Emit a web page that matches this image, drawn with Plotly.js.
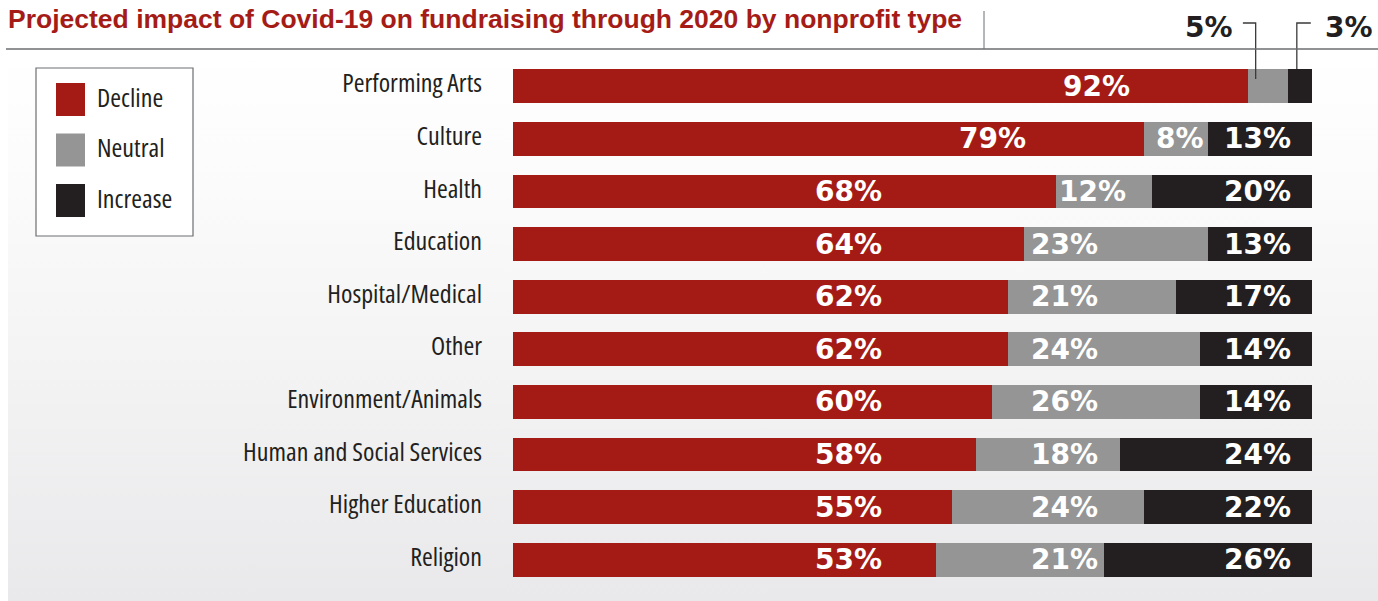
<!DOCTYPE html>
<html>
<head>
<meta charset="utf-8">
<script src="https://cdn.plot.ly/plotly-3.0.1.min.js"></script>
<style>
html,body{margin:0;padding:0;background:#ffffff;}
#wrap{position:relative;width:1378px;height:601px;overflow:hidden;}
#bg{position:absolute;left:8px;top:50px;width:1370px;height:551px;background:linear-gradient(to bottom,#ffffff 0%,#fbfbfb 25%,#e9e9eb 100%);}
#chart{position:absolute;left:0;top:0;width:1378px;height:601px;}
text[style*="Open Sans"]{font-stretch:75% !important;}
</style>
</head>
<body>
<div id="wrap"><div id="bg"></div><div id="chart"></div></div>
<script>
// ---- data ----
const categories = ['Performing Arts','Culture','Health','Education','Hospital/Medical','Other','Environment/Animals','Human and Social Services','Higher Education','Religion'];
const decline  = [92,79,68,64,62,62,60,58,55,53];
const neutral  = [5,8,12,23,21,24,26,18,24,21];
const increase = [3,13,20,13,17,14,14,24,22,26];
const seriesNames = ['Decline','Neutral','Increase'];
const titleText = 'Projected impact of Covid-19 on fundraising through 2020 by nonprofit type';

// ---- style ----
const colors = ['#a41b15','#959595','#231f20'];
const W = 1378, H = 601;
const M = {l:513, r:66, t:60, b:15};
const PW = W - M.l - M.r, PH = H - M.t - M.b;
const X = px => (px - M.l) / PW;        // pixel -> paper x
const Y = py => (H - M.b - py) / PH;    // pixel -> paper y
const XR = [0, 100];
const DX = v => (v - XR[0]) / (XR[1] - XR[0]);  // data x -> paper x
const valFont = {family:'DejaVu Sans', size:28, weight:'bold', color:'#ffffff'};
const labFamily = '"Open Sans", sans-serif';
const ink = '#231f20';

const series = [decline, neutral, increase];
const traces = series.map((vals, k) => ({
  type:'bar', orientation:'h', name: seriesNames[k],
  y: categories, x: vals,
  marker:{color: colors[k], line:{width:0}},
  hoverinfo:'skip', textposition:'none'
}));

const annotations = [];
const shapes = [];

categories.forEach((c, i) => {
  const d = decline[i], n = neutral[i], inc = increase[i];
  // decline label
  annotations.push({x: d >= 75 ? d - 19 : 42, y: c, xref:'x', yref:'y', text: d + '%',
    showarrow:false, xanchor:'center', yanchor:'middle', font: valFont});
  // neutral label
  if (n >= 6) {
    annotations.push({x: Math.max(69, d + 4.5), y: c, xref:'x', yref:'y', text: n + '%',
      showarrow:false, xanchor:'center', yanchor:'middle', font: valFont});
  } else {
    const lx = d + 0.95;
    shapes.push({type:'path', xref:'x', yref:'paper',
      path:`M${lx - 1.6},${Y(23)} L${lx},${Y(23)} L${lx},${Y(79)}`,
      line:{color:'#3a3a3a', width:1.3}, layer:'above'});
    annotations.push({x: DX(lx - 2.6), y: Y(27), xref:'paper', yref:'paper', text: n + '%',
      showarrow:false, xanchor:'right', yanchor:'middle', font:{...valFont, color: ink}});
  }
  // increase label
  if (inc >= 6) {
    annotations.push({x: 97.6, y: c, xref:'x', yref:'y', text: inc + '%',
      showarrow:false, xanchor:'right', yanchor:'middle', font: valFont});
  } else {
    const lx = d + n + 1.1;
    shapes.push({type:'path', xref:'x', yref:'paper',
      path:`M${lx + 1.75},${Y(23)} L${lx},${Y(23)} L${lx},${Y(69)}`,
      line:{color:'#3a3a3a', width:1.3}, layer:'above'});
    annotations.push({x: DX(lx + 3.3), y: Y(27), xref:'paper', yref:'paper', text: inc + '%',
      showarrow:false, xanchor:'left', yanchor:'middle', font:{...valFont, color: ink}});
  }
});

// title rule lines
shapes.push({type:'line', xref:'paper', yref:'paper', x0:X(6), x1:X(1378), y0:Y(49), y1:Y(49),
  line:{color:'#6d6e71', width:1.5}});
shapes.push({type:'line', xref:'paper', yref:'paper', x0:X(984), x1:X(984), y0:Y(11), y1:Y(49),
  line:{color:'#6d6e71', width:1}});

// custom legend box
shapes.push({type:'rect', xref:'paper', yref:'paper', x0:X(36), x1:X(193), y0:Y(68), y1:Y(236),
  line:{color:'#6d6e71', width:1.2}, fillcolor:'#ffffff', layer:'below'});
seriesNames.forEach((nm, k) => {
  const top = 83 + k * 50.5;
  shapes.push({type:'rect', xref:'paper', yref:'paper', x0:X(56), x1:X(85), y0:Y(top), y1:Y(top + 33),
    line:{width:0}, fillcolor: colors[k]});
  annotations.push({x:X(95), y:Y(top + 14), xref:'paper', yref:'paper', text: nm, showarrow:false,
    xanchor:'left', yanchor:'middle', font:{family:labFamily, size:26, weight:500, color: ink}});
});

const layout = {
  width: W, height: H,
  margin: M,
  barmode:'stack', bargap: 0.354,
  showlegend:false,
  paper_bgcolor:'rgba(0,0,0,0)', plot_bgcolor:'rgba(0,0,0,0)',
  title:{text: titleText, x: 8 / W, xref:'container', xanchor:'left',
    y: 1 - 18.5 / H, yref:'container', yanchor:'middle',
    font:{family:'"Liberation Sans", Arial, sans-serif', size:26.5, weight:'bold', color:'#a51c17'}},
  xaxis:{range: XR, visible:false, fixedrange:true},
  yaxis:{type:'category', autorange:'reversed', showgrid:false, zeroline:false, showline:false,
    ticks:'', ticklabelstandoff: 30, ticklabelshift: 3,
    tickfont:{family:labFamily, size:26, weight:500, color: ink}, fixedrange:true},
  annotations, shapes
};

Plotly.newPlot('chart', traces, layout, {displayModeBar:false, staticPlot:true});
</script>
</body>
</html>
